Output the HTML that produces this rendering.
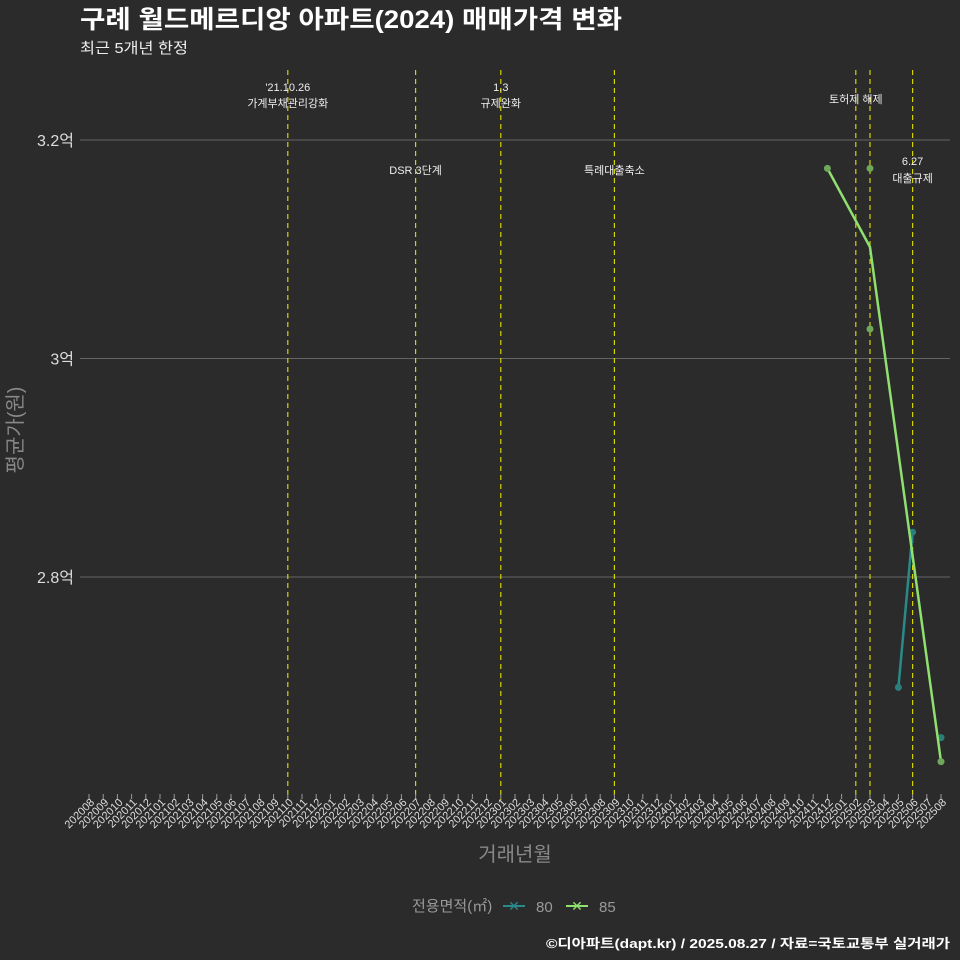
<!DOCTYPE html>
<html><head><meta charset="utf-8"><style>
body{margin:0;background:#2b2b2b;}
svg{display:block;font-family:"Liberation Sans","Noto Sans CJK KR",sans-serif;}
</style></head><body>
<svg id="c" width="960" height="960">
<rect width="960" height="960" fill="#2b2b2b"/>
<text x="80" y="28" fill="#fff" font-size="25" font-weight="bold" textLength="542" lengthAdjust="spacingAndGlyphs">구례 월드메르디앙 아파트(2024) 매매가격 변화</text>
<text x="80" y="53" fill="#eee" font-size="15" textLength="108" lengthAdjust="spacingAndGlyphs">최근 5개년 한정</text>
<g id="grid"></g><g id="vlines"></g><g id="xt"></g><g id="marks"></g>
<text transform="translate(22,430) rotate(-90)" text-anchor="middle" fill="#888" font-size="20">평균가(원)</text>
<text x="515" y="861" text-anchor="middle" fill="#888" font-size="20">거래년월</text>
<g>
<text x="412" y="911" fill="#999" font-size="15">전용면적(㎡)</text>
<g><line x1="503" y1="906" x2="525" y2="906" stroke="#2a8a8a" stroke-width="2"/><text x="514" y="911" text-anchor="middle" fill="#2a8a8a" font-size="14">✕</text><text x="536" y="912" fill="#999" font-size="15">80</text></g>
<g><line x1="566" y1="906" x2="588" y2="906" stroke="#90e070" stroke-width="2"/><text x="577" y="911" text-anchor="middle" fill="#90e070" font-size="14">✕</text><text x="599" y="912" fill="#999" font-size="15">85</text></g>
</g>
<text x="950" y="948" text-anchor="end" fill="#fff" font-size="13" font-weight="bold" textLength="404" lengthAdjust="spacingAndGlyphs">©디아파트(dapt.kr) / 2025.08.27 / 자료=국토교통부 실거래가</text>
</svg>
<script>
const months=[];for(let y=2020,m=8;!(y===2025&&m===9);){months.push(y+String(m).padStart(2,'0'));m++;if(m>12){m=1;y++;}}
const yTicks=[2.8,3.0,3.2];
const yTickLabels=["2.8억","3억","3.2억"];
const events=["202110","202207","202301","202309","202502","202503","202506"];
const line85Months=["202412","202503","202508"];
const line85Values=[3.174,3.102,2.631];
const pts85Months=["202412","202503","202503","202508"];
const pts85Values=[3.174,3.174,3.027,2.631];
const line80Months=["202505","202506"];
const line80Values=[2.699,2.841];
const pts80Months=["202505","202506","202508"];
const pts80Values=[2.699,2.841,2.653];
const NS="http://www.w3.org/2000/svg";
const X=m=>89+months.indexOf(m)*14.2;
const Y=v=>140+(3.2-v)*1092.5;
function mk(p,t,a){const e=document.createElementNS(NS,t);for(const k in a)e.setAttribute(k,a[k]);document.getElementById(p).appendChild(e);return e;}
yTicks.forEach((v,i)=>{
 const l=mk('grid','line',{x1:80,x2:950,y1:Y(v),y2:Y(v),stroke:'#666','stroke-width':1});
 
 
 const t=mk('grid','text',{x:74,y:Y(v)+6,'text-anchor':'end',fill:'#ddd','font-size':16});t.textContent=yTickLabels[i];
 
 
});
events.forEach(m=>{
 const l=mk('vlines','line',{x1:X(m),x2:X(m),y1:70,y2:800,stroke:'#d4d400','stroke-width':1.2,'stroke-dasharray':'5,4'});
 
 
});
const notes=[["202110",91,"'21.10.26"],["202110",107,"가계부채관리강화"],["202207",174,"DSR 3단계"],["202301",91,"1.3"],["202301",107,"규제완화"],["202309",174,"특례대출축소"],["202502",103,"토허제 해제",0],["202506",165,"6.27"],["202506",182,"대출규제"]];
notes.forEach(n=>{const t=mk('vlines','text',{x:X(n[0])+(n[3]||0),y:n[1],'text-anchor':'middle',fill:'#eee','font-size':11});t.textContent=n[2];
 
 });
months.forEach(m=>{
 const x=X(m);
 const l=mk('xt','line',{x1:x,x2:x,y1:794,y2:799,stroke:'#999'});
 
 
 const t=mk('xt','text',{transform:`translate(${x+6},${803}) rotate(-45)`,'text-anchor':'end',fill:'#ddd','font-size':11});t.textContent=m;
 
 
});
function series(ms,vs,col,name){
 const p=mk('marks','polyline',{points:ms.map((m,i)=>X(m)+','+Y(vs[i])).join(' '),fill:'none',stroke:col,'stroke-width':2.5});
 
 
}
function points(ms,vs,col,name){ms.forEach((m,i)=>{const c=mk('marks','circle',{cx:X(m),cy:Y(vs[i]),r:3.5,fill:col});
 
 });}
series(line80Months,line80Values,'#2a8a8a','line-80');
points(pts80Months,pts80Values,'#2a7f7a','point-80');
series(line85Months,line85Values,'#90e070','line-85');
points(pts85Months,pts85Values,'#6fa85a','point-85');
</script>
</body></html>
